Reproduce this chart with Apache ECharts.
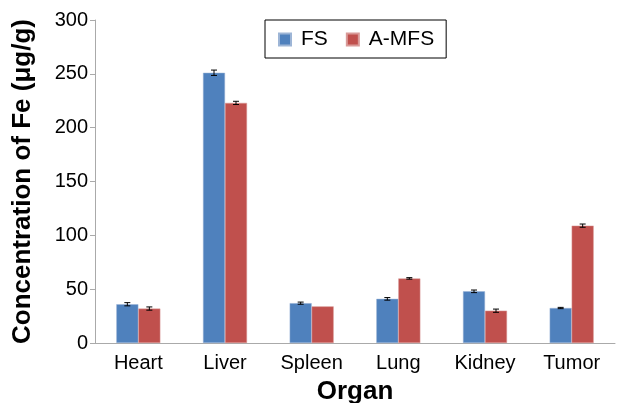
<!DOCTYPE html>
<html><head><meta charset="utf-8">
<script src="https://cdn.jsdelivr.net/npm/echarts@6/dist/echarts.min.js"></script>
<style>html,body{margin:0;padding:0;background:#fff}#c{width:619px;height:403px}</style>
</head><body><div id="c"></div>
<script>
const categories = ['Heart','Liver','Spleen','Lung','Kidney','Tumor'];
const fsValues = [36, 251, 37, 41, 48, 32.5];
const fsErrors = [1.5, 2.5, 1, 1.2, 1.2, 0.6];
const amfsValues = [32, 223, 34, 60, 30, 109];
const amfsErrors = [1.5, 1.5, 0, 0.7, 1.5, 1.5];
const seriesNames = ['FS', 'A-MFS'];
const colors = ['#4F81BD', '#C0504D'];
const BAR_W = 22;

function errRender(values, errors, offset) {
  return function (params, api) {
    const i = api.value(0);
    const v = values[i], e = errors[i];
    if (!e) return null;
    const top = api.coord([i, v + e]);
    const bot = api.coord([i, v - e]);
    const x = top[0] + offset;
    const cap = 3;
    const st = { stroke: '#000', lineWidth: 1 };
    return { type: 'group', children: [
      { type: 'line', shape: { x1: x, y1: top[1], x2: x, y2: bot[1] }, style: st },
      { type: 'line', shape: { x1: x - cap, y1: top[1], x2: x + cap, y2: top[1] }, style: st },
      { type: 'line', shape: { x1: x - cap, y1: bot[1], x2: x + cap, y2: bot[1] }, style: st }
    ]};
  };
}

const chart = echarts.init(document.getElementById('c'), null, { renderer: 'canvas' });
chart.setOption({
  animation: false,
  textStyle: { fontFamily: 'Liberation Sans, Arial, sans-serif' },
  color: colors,
  legend: {
    data: seriesNames,
    left: 265, top: 20,
    padding: [9, 12, 8, 13],
    itemWidth: 12, itemHeight: 12, itemGap: 18,
    borderColor: '#000', borderWidth: 1, backgroundColor: '#fff',
    textStyle: { fontSize: 21, color: '#000', fontFamily: 'Liberation Sans, Arial, sans-serif', padding: [0, 0, 0, 5] },
    icon: 'rect'
  },
  grid: { left: 95, right: 4, top: 20, bottom: 60, containLabel: false, outerBoundsMode: 'none' },
  xAxis: {
    type: 'category', data: categories,
    axisLine: { lineStyle: { color: '#aaa' } },
    axisTick: { show: false },
    axisLabel: { color: '#000', fontSize: 20, margin: 10 },
    name: 'Organ', nameLocation: 'middle', nameGap: 36,
    nameTextStyle: { fontSize: 26, fontWeight: 'bold', color: '#000' }
  },
  yAxis: {
    type: 'value', min: 0, max: 300, interval: 50,
    axisLine: { show: true, lineStyle: { color: '#aaa' } },
    axisTick: { show: true, length: 5, lineStyle: { color: '#aaa' } },
    splitLine: { show: false },
    axisLabel: { color: '#000', fontSize: 20, margin: 7 },
    name: 'Concentration of Fe (μg/g)', nameLocation: 'middle', nameGap: 59,
    nameTextStyle: { fontSize: 26, fontWeight: 'bold', color: '#000' }
  },
  series: [
    { name: seriesNames[0], type: 'bar', data: fsValues, barWidth: BAR_W, barGap: '0%',
      itemStyle: { color: colors[0], borderColor: '#9db5d6', borderWidth: 0.5 } },
    { name: seriesNames[1], type: 'bar', data: amfsValues, barWidth: BAR_W, barGap: '0%',
      itemStyle: { color: colors[1], borderColor: '#d99a98', borderWidth: 0.5 } },
    { type: 'custom', data: categories.map((c, i) => [i]), renderItem: errRender(fsValues, fsErrors, -BAR_W / 2), z: 5, silent: true },
    { type: 'custom', data: categories.map((c, i) => [i]), renderItem: errRender(amfsValues, amfsErrors, BAR_W / 2), z: 5, silent: true }
  ]
});
</script></body></html>
